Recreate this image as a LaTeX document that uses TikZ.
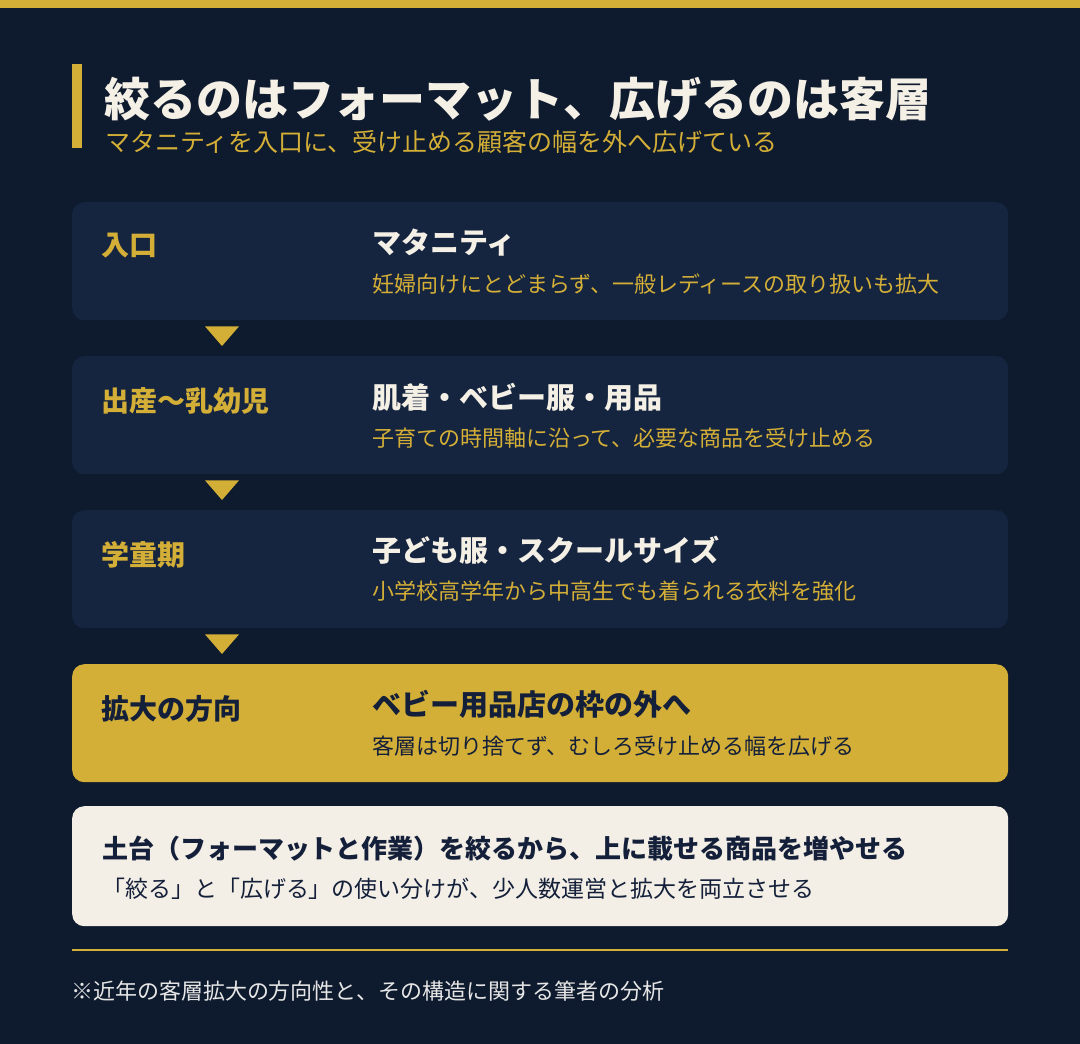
\documentclass[tikz,border=0pt]{standalone}
\usepackage{fontspec}
\setmainfont{Noto Sans CJK JP}
\usetikzlibrary{calc}
\definecolor{bgc}{HTML}{0E1A2D}
\definecolor{boxc}{HTML}{15243F}
\definecolor{goldc}{HTML}{D4AF37}
\definecolor{creamc}{HTML}{F4EFE6}
\definecolor{darkc}{HTML}{14203A}
\definecolor{titlec}{HTML}{F5F0E6}
\definecolor{footc}{HTML}{E6E6E6}
\newcommand{\fs}[1]{\fontsize{#1}{#1}\selectfont}
\begin{document}
\begin{tikzpicture}[x=1pt,y=-1pt,
  card/.style={rectangle, rounded corners=12pt, fill=boxc, draw=none, minimum width=936pt, minimum height=118pt, inner sep=0pt, anchor=north west},
  txt/.style={anchor=west, inner sep=0pt, outer sep=0pt},
  lab/.style={txt, font=\fs{28}\bfseries, text=goldc},
  ttl/.style={txt, font=\fs{29}\bfseries, text=titlec},
  dsc/.style={txt, font=\fs{22}, text=goldc},
  tri/.style={fill=goldc}
]
\useasboundingbox (0,0) rectangle (1080,1044);
\fill[bgc] (0,0) rectangle (1080,1044);
\fill[goldc] (0,0) rectangle (1080,8);
\fill[goldc] (72,64) rectangle (82,148);
\node[txt, font=\fs{46}\bfseries, text=titlec] (title) at (104,99) {絞るのはフォーマット、広げるのは客層};
\node[txt, font=\fs{25}, text=goldc] (sub) at (105,142) {マタニティを入口に、受け止める顧客の幅を外へ広げている};

% cards
\node[card] (b1) at (72,202) {};
\node[card] (b2) at (72,356) {};
\node[card] (b3) at (72,510) {};
\node[card, fill=goldc] (b4) at (72,664) {};
\node[card, fill=creamc, minimum height=120pt] (b5) at (72,806) {};

% arrows between cards
\foreach \a/\b in {b1/b2,b2/b3,b3/b4}{
  \fill[tri] ($(\a.south west)+(133,6)$) -- ($(\a.south west)+(167,6)$) -- ($(\b.north west)+(150,-10)$) -- cycle;
}

% card 1
\node[lab] (l1) at (101,246) {入口};
\node[ttl] (t1) at (372,243) {マタニティ};
\node[dsc] (d1) at (372,284) {妊婦向けにとどまらず、一般レディースの取り扱いも拡大};
% card 2
\node[lab] (l2) at (101,401) {出産〜乳幼児};
\node[ttl] (t2) at (372,397) {肌着・ベビー服・用品};
\node[dsc] (d2) at (372,438) {子育ての時間軸に沿って、必要な商品を受け止める};
% card 3
\node[lab] (l3) at (101,555) {学童期};
\node[ttl] (t3) at (372,550) {子ども服・スクールサイズ};
\node[dsc] (d3) at (372,591) {小学校高学年から中高生でも着られる衣料を強化};
% card 4
\node[lab, text=darkc] (l4) at (101,709) {拡大の方向};
\node[ttl, text=darkc] (t4) at (372,704) {ベビー用品店の枠の外へ};
\node[dsc, text=darkc] (d4) at (372,746) {客層は切り捨てず、むしろ受け止める幅を広げる};
% card 5
\node[txt, font=\fs{26}\bfseries, text=darkc] (t5) at (102,849) {土台（フォーマットと作業）を絞るから、上に載せる商品を増やせる};
\node[txt, font=\fs{23}, text=darkc] (d5) at (102,889) {「絞る」と「広げる」の使い分けが、少人数運営と拡大を両立させる};

% footer
\fill[goldc] (72,949) rectangle (1008,951);
\node[txt, font=\fs{22}, text=footc] (foot) at (71,991) {※近年の客層拡大の方向性と、その構造に関する筆者の分析};
\end{tikzpicture}
\end{document}
